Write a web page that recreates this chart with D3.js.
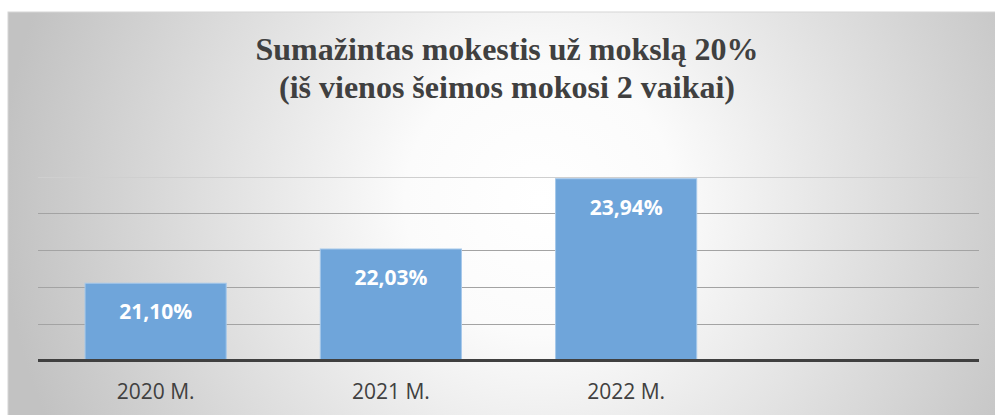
<!DOCTYPE html>
<html>
<head>
<meta charset="utf-8">
<script src="https://cdn.jsdelivr.net/npm/d3@7"></script>
<style>
  html, body { margin: 0; padding: 0; background: #fff; }
  svg { display: block; }
</style>
</head>
<body>
<div id="chart"></div>
<script>
// data
const titleLines = ["Sumažintas mokestis už mokslą 20%", "(iš vienos šeimos mokosi 2 vaikai)"];
const categories = ["2020 M.", "2021 M.", "2022 M.", ""];
const values = [21.10, 22.03, 23.94, null];
const valueLabels = ["21,10%", "22,03%", "23,94%", ""];
const yTicks = [19, 20, 21, 22, 23, 24];

const W = 995, H = 415;
const plot = { left: 38, right: 979, top: 176.5, bottom: 360.5 };

const svg = d3.select("#chart")
    .append("svg")
    .attr("width", W)
    .attr("height", H);

// background gradient
const defs = svg.append("defs");
const grad = defs.append("radialGradient")
    .attr("id", "bg")
    .attr("gradientUnits", "userSpaceOnUse")
    .attr("cx", 540).attr("cy", 200).attr("r", 540);
grad.append("stop").attr("offset", "0%").attr("stop-color", "#ffffff");
grad.append("stop").attr("offset", "25%").attr("stop-color", "#fbfbfb");
grad.append("stop").attr("offset", "100%").attr("stop-color", "#c2c2c2");

svg.append("rect")
    .attr("x", 8).attr("y", 12)
    .attr("width", W - 8 + 10).attr("height", H - 12 + 10)
    .attr("fill", "url(#bg)")
    .attr("stroke", "#d6d6d6")
    .attr("stroke-width", 1);

// scales
const x = d3.scaleBand()
    .domain(categories.map((d, i) => i))
    .range([plot.left, plot.right])
    .paddingInner(0.4)
    .paddingOuter(0.2);

const y = d3.scaleLinear()
    .domain([19, 24])
    .range([plot.bottom, plot.top]);

// gridlines
svg.append("g")
    .selectAll("line")
    .data(yTicks.slice(1))
    .enter()
    .append("line")
    .attr("x1", plot.left)
    .attr("x2", plot.right)
    .attr("y1", d => Math.round(y(d)) + 0.5)
    .attr("y2", d => Math.round(y(d)) + 0.5)
    .attr("stroke", d => d === 24 ? "#cfcfcf" : "#a3a3a3")
    .attr("stroke-width", 1.2);

// bars
const bars = categories.map((c, i) => ({ i, c, v: values[i], label: valueLabels[i] }))
    .filter(d => d.v != null);

svg.selectAll(".bar")
    .data(bars)
    .enter()
    .append("rect")
    .attr("class", "bar")
    .attr("x", d => x(d.i))
    .attr("width", x.bandwidth())
    .attr("y", d => y(d.v))
    .attr("height", d => y(19) - y(d.v))
    .attr("fill", "#6fa5da")
    .attr("stroke", "#a6c8ea")
    .attr("stroke-width", 1);

// value labels
svg.selectAll(".vlabel")
    .data(bars)
    .enter()
    .append("text")
    .attr("class", "vlabel")
    .attr("x", d => x(d.i) + x.bandwidth() / 2)
    .attr("y", d => y(d.v) + 36)
    .attr("text-anchor", "middle")
    .style("font-family", "'Open Sans', sans-serif")
    .style("font-weight", "bold")
    .style("font-size", "21px")
    .style("fill", "#ffffff")
    .text(d => d.label);

// baseline
svg.append("line")
    .attr("x1", plot.left)
    .attr("x2", plot.right)
    .attr("y1", y(19))
    .attr("y2", y(19))
    .attr("stroke", "#404040")
    .attr("stroke-width", 3);

// x axis labels
svg.append("g")
    .selectAll("text")
    .data(categories.map((c, i) => ({ c, i })))
    .enter()
    .append("text")
    .attr("x", d => x(d.i) + x.bandwidth() / 2)
    .attr("y", 399)
    .attr("text-anchor", "middle")
    .style("font-family", "'Open Sans', sans-serif")
    .style("font-size", "21px")
    .style("fill", "#404040")
    .text(d => d.c);

// title
svg.append("g")
    .selectAll("text")
    .data(titleLines)
    .enter()
    .append("text")
    .attr("x", 507)
    .attr("y", (d, i) => 60 + i * 38)
    .attr("text-anchor", "middle")
    .style("font-family", "'Liberation Serif', 'Times New Roman', serif")
    .style("font-weight", "bold")
    .style("font-size", "32px")
    .style("fill", "#404040")
    .text(d => d);
</script>
</body>
</html>
